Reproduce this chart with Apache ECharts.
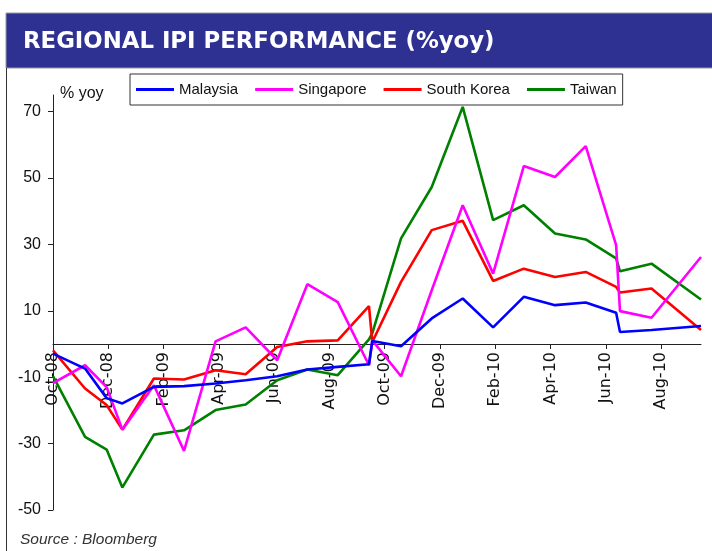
<!DOCTYPE html>
<html>
<head>
<meta charset="utf-8">
<script src="https://cdn.jsdelivr.net/npm/echarts@6/dist/echarts.min.js"></script>
<style>
html,body{margin:0;padding:0;background:#fff;}
#chart{width:712px;height:551px;}
</style>
</head>
<body>
<div id="chart"></div>
<script>
// x position of each observation, in months since Oct-2008
var xMonths = [0, 1.16, 1.94, 2.51, 3.65, 4.74, 5.88, 6.97, 8.11, 9.20, 10.30, 11.43, 11.55, 12.59, 13.70, 14.82, 15.92, 17.03, 18.16, 19.27, 20.37, 20.51, 21.65, 23.44];
var malaysia = [-2.9, -7.4, -16.3, -17.9, -12.9, -12.7, -11.9, -10.9, -9.7, -7.7, -6.9, -6.1, 0.9, -0.7, 7.7, 13.7, 5.0, 14.2, 11.7, 12.5, 9.4, 3.6, 4.2, 5.4];
var singapore = [-11.8, -6.4, -13.0, -25.8, -12.4, -32.2, 0.8, 5.0, -4.9, 18.0, 12.6, -6.4, 1.1, -9.7, 16.2, 41.8, 21.2, 53.6, 50.3, 59.6, 29.8, 9.9, 7.9, 26.2];
var southKorea = [-1.9, -13.4, -18.4, -25.8, -10.4, -10.7, -7.9, -9.1, -0.9, 0.8, 1.1, 11.4, 0.6, 18.7, 34.3, 37.1, 19.0, 22.7, 20.2, 21.7, 17.2, 15.5, 16.7, 4.2];
var taiwan = [-9.7, -28.0, -31.8, -43.2, -27.3, -26.0, -19.9, -18.2, -10.9, -7.7, -9.4, 1.4, 3.3, 31.8, 47.3, 71.4, 37.3, 41.8, 33.3, 31.5, 25.8, 21.9, 24.2, 13.4];
var seriesNames = ['Malaysia', 'Singapore', 'South Korea', 'Taiwan'];
var xTickMonths = [0, 2, 4, 6, 8, 10, 12, 14, 16, 18, 20, 22];
var xTickLabels = ['Oct-08', 'Dec-08', 'Feb-09', 'Apr-09', 'Jun-09', 'Aug-09', 'Oct-09', 'Dec-09', 'Feb-10', 'Apr-10', 'Jun-10', 'Aug-10'];
var yTicks = [-50, -30, -10, 10, 30, 50, 70];
var yMin = -50, yMax = 75;
var titleText = 'REGIONAL IPI PERFORMANCE (%yoy)';
var unitText = '% yoy';
var sourceText = 'Source : Bloomberg';

function pairs(vals) {
  return vals.map(function (v, i) { return [xMonths[i], v]; });
}
var colors = ['#0000FF', '#FF00FF', '#FF0000', '#008000'];
var allVals = [malaysia, singapore, southKorea, taiwan];

var gridTop = 95, gridBottom = 41, chartH = 551;
var plotH = chartH - gridTop - gridBottom;
// lift the category axis from the bottom edge of the plot up to the zero line
var zeroOffset = -plotH * (0 - yMin) / (yMax - yMin);

var chart = echarts.init(document.getElementById('chart'), null, {renderer: 'canvas'});
var option = {
  animation: false,
  backgroundColor: '#ffffff',
  grid: {left: 53, right: 11, top: gridTop, bottom: gridBottom, containLabel: false, outerBoundsMode: 'none'},
  legend: {
    data: seriesNames,
    left: 130, top: 74,
    orient: 'horizontal',
    icon: 'rect',
    itemWidth: 38, itemHeight: 3,
    itemGap: 17,
    padding: [8, 6, 8, 6],
    borderColor: '#333', borderWidth: 1,
    backgroundColor: '#fff',
    textStyle: {fontFamily: '"Liberation Sans", Arial, sans-serif', fontSize: 15, color: '#111'}
  },
  xAxis: {
    type: 'value', min: 0, max: xMonths[xMonths.length - 1],
    position: 'bottom', offset: zeroOffset,
    splitLine: {show: false},
    axisLine: {onZero: false, lineStyle: {color: '#222', width: 1}},
    axisTick: {show: true, length: 5, lineStyle: {color: '#222'}, customValues: xTickMonths},
    axisLabel: {
      customValues: xTickMonths,
      rotate: 90, margin: 8,
      fontFamily: '"DejaVu Sans", sans-serif', fontSize: 16, color: '#111',
      formatter: function (v) { var i = xTickMonths.indexOf(Math.round(v)); return i >= 0 ? xTickLabels[i] : ''; }
    }
  },
  yAxis: {
    type: 'value', min: yMin, max: yMax,
    splitLine: {show: false},
    axisLine: {show: true, lineStyle: {color: '#222', width: 1}},
    axisTick: {show: true, length: 5, lineStyle: {color: '#222'}, customValues: yTicks},
    axisLabel: {customValues: yTicks, margin: 12, fontFamily: '"Liberation Sans", Arial, sans-serif', fontSize: 16, color: '#111'}
  },
  series: seriesNames.map(function (n, k) {
    return {
      name: n, type: 'line', data: pairs(allVals[k]),
      symbol: 'none', color: colors[k],
      lineStyle: {width: 2.6, color: colors[k]},
      z: 2 + (3 - k)
    };
  }),
  graphic: [
    {type: 'rect', shape: {x: 6, y: 13, width: 712, height: 55}, style: {fill: '#2E3192', stroke: '#999', lineWidth: 1}, silent: true},
    {type: 'text', x: 23, y: 42, style: {text: titleText, fill: '#fff', font: 'bold 22.8px "DejaVu Sans", sans-serif', textVerticalAlign: 'middle'}, silent: true},
    {type: 'line', shape: {x1: 6.5, y1: 68, x2: 6.5, y2: 551}, style: {stroke: '#333', lineWidth: 1}, silent: true},
    {type: 'text', x: 60, y: 94, style: {text: unitText, fill: '#111', font: '16px "Liberation Sans", Arial, sans-serif', textVerticalAlign: 'middle'}, silent: true},
    {type: 'text', x: 20, y: 540, style: {text: sourceText, fill: '#333', font: 'italic 15.5px "Liberation Sans", Arial, sans-serif', textVerticalAlign: 'middle'}, silent: true}
  ]
};
chart.setOption(option);
</script>
</body>
</html>
